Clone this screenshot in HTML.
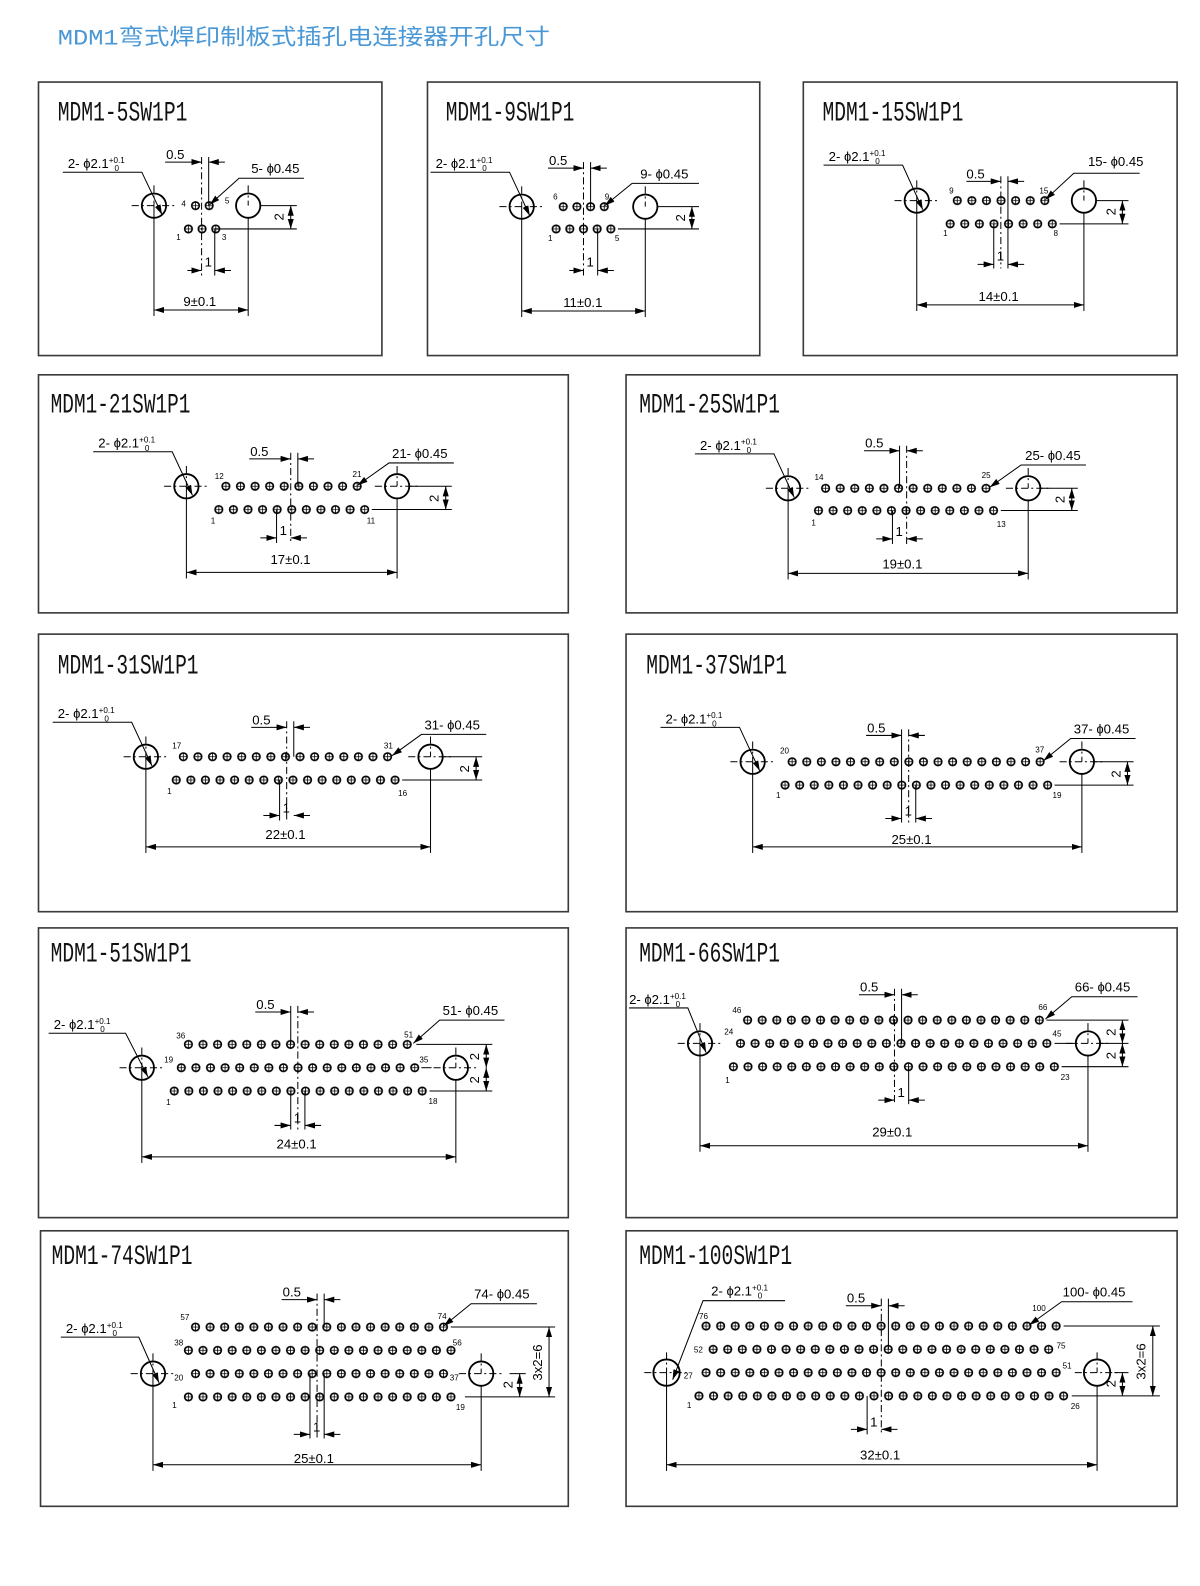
<!DOCTYPE html>
<html><head><meta charset="utf-8"><style>
html,body{margin:0;padding:0;background:#fff;width:1200px;height:1586px;overflow:hidden}
svg{display:block}
.l{stroke:#000;stroke-width:1;fill:none}
.c{stroke:#000;stroke-width:1;fill:none;stroke-dasharray:7,3,2,3}
.b{stroke:#000;stroke-width:1.8;fill:none}
.p{stroke:#3a3a3a;stroke-width:1.6;fill:#fff}
.t{font-family:"Liberation Sans",sans-serif;font-size:13px;fill:#000}
.s{font-family:"Liberation Sans",sans-serif;font-size:8px;fill:#000}
.h{font-family:"Liberation Mono",monospace;font-size:27px;fill:#111}
</style></head><body>
<svg width="1200" height="1586" viewBox="0 0 1200 1586" xmlns="http://www.w3.org/2000/svg">
<defs>
<marker id="a" viewBox="0 0 10 6" refX="10" refY="3" markerWidth="10" markerHeight="6" markerUnits="userSpaceOnUse" orient="auto-start-reverse"><path d="M0,0L10,3L0,6z" fill="#000"/></marker>
<pattern id="pa" patternUnits="userSpaceOnUse" width="13.5" height="12"><circle cx="6.75" cy="6" r="3.7" fill="none" stroke="#000" stroke-width="1.6"/><path d="M6.75,2v8M2.8,6h8" stroke="#000" stroke-width="0.8"/></pattern>
<pattern id="pb" patternUnits="userSpaceOnUse" width="14.4" height="12"><circle cx="7.2" cy="6" r="3.7" fill="none" stroke="#000" stroke-width="1.6"/><path d="M7.2,2v8M3.3,6h8" stroke="#000" stroke-width="0.8"/></pattern>
</defs>
<g transform="scale(1.013)">
<text x="57" y="44" style="font-family:'Liberation Mono','Noto Sans CJK SC',sans-serif;font-size:22px;fill:#4a98d6" textLength="486" lengthAdjust="spacingAndGlyphs">MDM1弯式焊印制板式插孔电连接器开孔尺寸</text>

<rect class="p" x="38" y="81" width="339" height="270"/>
<rect class="p" x="422" y="81" width="328" height="270"/>
<rect class="p" x="793" y="81" width="369" height="270"/>
<rect class="p" x="38" y="370" width="523" height="235"/>
<rect class="p" x="618" y="370" width="544" height="235"/>
<rect class="p" x="38" y="626" width="523" height="274"/>
<rect class="p" x="618" y="626" width="544" height="274"/>
<rect class="p" x="38" y="916" width="523" height="286"/>
<rect class="p" x="618" y="916" width="544" height="286"/>
<rect class="p" x="40" y="1215" width="521" height="272"/>
<rect class="p" x="618" y="1215" width="544" height="272"/>

<text class="h" x="57" y="119" textLength="128" lengthAdjust="spacingAndGlyphs">MDM1-5SW1P1</text>
<text class="h" x="440" y="119" textLength="127" lengthAdjust="spacingAndGlyphs">MDM1-9SW1P1</text>
<text class="h" x="812" y="119" textLength="139" lengthAdjust="spacingAndGlyphs">MDM1-15SW1P1</text>
<text class="h" x="50" y="407" textLength="138" lengthAdjust="spacingAndGlyphs">MDM1-21SW1P1</text>
<text class="h" x="631" y="407" textLength="139" lengthAdjust="spacingAndGlyphs">MDM1-25SW1P1</text>
<text class="h" x="57" y="665" textLength="139" lengthAdjust="spacingAndGlyphs">MDM1-31SW1P1</text>
<text class="h" x="638" y="665" textLength="139" lengthAdjust="spacingAndGlyphs">MDM1-37SW1P1</text>
<text class="h" x="50" y="949" textLength="139" lengthAdjust="spacingAndGlyphs">MDM1-51SW1P1</text>
<text class="h" x="631" y="949" textLength="139" lengthAdjust="spacingAndGlyphs">MDM1-66SW1P1</text>
<text class="h" x="51" y="1248" textLength="139" lengthAdjust="spacingAndGlyphs">MDM1-74SW1P1</text>
<text class="h" x="631" y="1248" textLength="151" lengthAdjust="spacingAndGlyphs">MDM1-100SW1P1</text>

<!-- P1 -->
<g>
<circle class="b" cx="152" cy="203" r="12"/><circle class="b" cx="245" cy="203" r="12"/>
<line class="c" x1="130" y1="203" x2="174" y2="203"/><line class="c" x1="152" y1="183" x2="152" y2="203"/>
<line class="c" x1="245" y1="183" x2="245" y2="203"/>
<line class="l" x1="152" y1="203" x2="152" y2="312"/><line class="l" x1="245" y1="215" x2="245" y2="312"/>
<line class="l" x1="152" y1="306" x2="245" y2="306" marker-start="url(#a)" marker-end="url(#a)"/>
<text class="t" x="181" y="302">9±0.1</text>
<rect transform="translate(186.25,197)" width="27" height="12" fill="url(#pa)"/>
<rect transform="translate(179.25,220)" width="40.5" height="12" fill="url(#pa)"/>
<text class="s" x="179" y="204">4</text><text class="s" x="222" y="201">5</text><text class="s" x="174" y="237">1</text><text class="s" x="219" y="237">3</text>
<line class="c" x1="199" y1="155" x2="199" y2="272"/><line class="l" x1="206" y1="155" x2="206" y2="203"/>
<line class="l" x1="163" y1="160" x2="199" y2="160" marker-end="url(#a)"/><line class="l" x1="222" y1="160" x2="206" y2="160" marker-end="url(#a)"/>
<text class="t" x="164" y="157">0.5</text>
<line class="l" x1="212" y1="226" x2="212" y2="272"/>
<line class="l" x1="185" y1="267" x2="199" y2="267" marker-end="url(#a)"/><line class="l" x1="228" y1="267" x2="212" y2="267" marker-end="url(#a)"/>
<text class="t" x="202" y="263">1</text>
<line class="l" x1="257" y1="203" x2="293" y2="203"/><line class="l" x1="212" y1="226" x2="293" y2="226"/>
<line class="l" x1="287" y1="203" x2="287" y2="226" marker-start="url(#a)" marker-end="url(#a)"/>
<text class="t" transform="translate(280,214) rotate(-90)" text-anchor="middle">2</text>
<text class="t" x="67" y="166">2- ɸ2.1<tspan class="s" dy="-5">+0.1</tspan><tspan class="s" x="113" dy="8">0</tspan></text>
<polyline class="l" points="62,170 140,170 160,212" marker-end="url(#a)"/>
<text class="t" x="248" y="171">5- ɸ0.45</text>
<polyline class="l" points="300,176 236,176 207,202" marker-end="url(#a)"/>
</g>

<!-- P2 -->
<g>
<circle class="b" cx="515" cy="204" r="12"/><circle class="b" cx="637" cy="204" r="12"/>
<line class="c" x1="493" y1="204" x2="537" y2="204"/><line class="c" x1="515" y1="184" x2="515" y2="204"/><line class="c" x1="637" y1="184" x2="637" y2="204"/>
<line class="l" x1="515" y1="204" x2="515" y2="313"/><line class="l" x1="637" y1="216" x2="637" y2="313"/>
<line class="l" x1="515" y1="307" x2="637" y2="307" marker-start="url(#a)" marker-end="url(#a)"/>
<text class="t" x="556" y="303">11±0.1</text>
<rect transform="translate(549.25,198)" width="54" height="12" fill="url(#pa)"/>
<rect transform="translate(542.25,220)" width="67.5" height="12" fill="url(#pa)"/>
<text class="s" x="546" y="197">6</text><text class="s" x="597" y="197">9</text><text class="s" x="541" y="238">1</text><text class="s" x="607" y="238">5</text>
<line class="c" x1="576" y1="160" x2="576" y2="272"/><line class="l" x1="583" y1="160" x2="583" y2="204"/>
<line class="l" x1="541" y1="166" x2="576" y2="166" marker-end="url(#a)"/><line class="l" x1="599" y1="166" x2="583" y2="166" marker-end="url(#a)"/>
<text class="t" x="542" y="163">0.5</text>
<line class="l" x1="590" y1="226" x2="590" y2="272"/>
<line class="l" x1="562" y1="267" x2="576" y2="267" marker-end="url(#a)"/><line class="l" x1="606" y1="267" x2="590" y2="267" marker-end="url(#a)"/>
<text class="t" x="579" y="263">1</text>
<line class="l" x1="649" y1="204" x2="690" y2="204"/><line class="l" x1="610" y1="226" x2="690" y2="226"/>
<line class="l" x1="683" y1="204" x2="683" y2="226" marker-start="url(#a)" marker-end="url(#a)"/>
<text class="t" transform="translate(676,215) rotate(-90)" text-anchor="middle">2</text>
<text class="t" x="430" y="166">2- ɸ2.1<tspan class="s" dy="-5">+0.1</tspan><tspan class="s" x="476" dy="8">0</tspan></text>
<polyline class="l" points="425,170 503,170 523,213" marker-end="url(#a)"/>
<text class="t" x="632" y="176">9- ɸ0.45</text>
<polyline class="l" points="690,181 624,181 597,203" marker-end="url(#a)"/>
</g>

<!-- P3 -->
<g>
<circle class="b" cx="905" cy="198" r="12"/><circle class="b" cx="1070" cy="198" r="12"/>
<line class="c" x1="883" y1="198" x2="927" y2="198"/><line class="c" x1="905" y1="178" x2="905" y2="198"/><line class="c" x1="1070" y1="178" x2="1070" y2="198"/>
<line class="l" x1="905" y1="198" x2="905" y2="307"/><line class="l" x1="1070" y1="210" x2="1070" y2="307"/>
<line class="l" x1="905" y1="301" x2="1070" y2="301" marker-start="url(#a)" marker-end="url(#a)"/>
<text class="t" x="966" y="297">14±0.1</text>
<rect transform="translate(937.8,192)" width="100.8" height="12" fill="url(#pb)"/>
<rect transform="translate(930.8,215)" width="115.2" height="12" fill="url(#pb)"/>
<text class="s" x="937" y="191">9</text><text class="s" x="1026" y="191">15</text><text class="s" x="931" y="233">1</text><text class="s" x="1040" y="233">8</text>
<line class="c" x1="988" y1="174" x2="988" y2="265"/><line class="l" x1="995" y1="174" x2="995" y2="265"/>
<line class="l" x1="954" y1="179" x2="988" y2="179" marker-end="url(#a)"/><line class="l" x1="1011" y1="179" x2="995" y2="179" marker-end="url(#a)"/>
<text class="t" x="954" y="176">0.5</text>
<line class="l" x1="981" y1="221" x2="981" y2="265"/>
<line class="l" x1="965" y1="261" x2="981" y2="261" marker-end="url(#a)"/><line class="l" x1="1011" y1="261" x2="995" y2="261" marker-end="url(#a)"/>
<text class="t" x="984" y="257">1</text>
<line class="l" x1="1082" y1="198" x2="1114" y2="198"/><line class="l" x1="1046" y1="221" x2="1114" y2="221"/>
<line class="l" x1="1108" y1="198" x2="1108" y2="221" marker-start="url(#a)" marker-end="url(#a)"/>
<text class="t" transform="translate(1101,209) rotate(-90)" text-anchor="middle">2</text>
<text class="t" x="818" y="159">2- ɸ2.1<tspan class="s" dy="-5">+0.1</tspan><tspan class="s" x="864" dy="8">0</tspan></text>
<polyline class="l" points="813,163 891,163 911,207" marker-end="url(#a)"/>
<text class="t" x="1074" y="164">15- ɸ0.45</text>
<polyline class="l" points="1125,171 1060,171 1032,197" marker-end="url(#a)"/>
</g>

<!-- P4 -->
<g>
<circle class="b" cx="184" cy="480" r="12"/><circle class="b" cx="392" cy="480" r="12"/>
<line class="c" x1="162" y1="480" x2="206" y2="480"/><line class="c" x1="184" y1="460" x2="184" y2="480"/><line class="c" x1="370" y1="480" x2="414" y2="480"/><line class="c" x1="392" y1="460" x2="392" y2="480"/>
<line class="l" x1="184" y1="480" x2="184" y2="571"/><line class="l" x1="392" y1="492" x2="392" y2="571"/>
<line class="l" x1="184" y1="565" x2="392" y2="565" marker-start="url(#a)" marker-end="url(#a)"/>
<text class="t" x="267" y="557">17±0.1</text>
<rect transform="translate(215.8,474)" width="144" height="12" fill="url(#pb)"/>
<rect transform="translate(208.8,497)" width="158.4" height="12" fill="url(#pb)"/>
<text class="s" x="212" y="473">12</text><text class="s" x="348" y="471">21</text><text class="s" x="208" y="517">1</text><text class="s" x="362" y="517">11</text>
<line class="c" x1="287" y1="447" x2="287" y2="536"/><line class="l" x1="294" y1="447" x2="294" y2="480"/>
<line class="l" x1="246" y1="453" x2="287" y2="453" marker-end="url(#a)"/><line class="l" x1="310" y1="453" x2="294" y2="453" marker-end="url(#a)"/>
<text class="t" x="247" y="450">0.5</text>
<line class="l" x1="273" y1="503" x2="273" y2="536"/>
<line class="l" x1="257" y1="531" x2="273" y2="531" marker-end="url(#a)"/><line class="l" x1="303" y1="531" x2="287" y2="531" marker-end="url(#a)"/>
<text class="t" x="276" y="528">1</text>
<line class="l" x1="404" y1="480" x2="446" y2="480"/><line class="l" x1="367" y1="503" x2="446" y2="503"/>
<line class="l" x1="440" y1="480" x2="440" y2="503" marker-start="url(#a)" marker-end="url(#a)"/>
<text class="t" transform="translate(433,492) rotate(-90)" text-anchor="middle">2</text>
<text class="t" x="97" y="442">2- ɸ2.1<tspan class="s" dy="-5">+0.1</tspan><tspan class="s" x="143" dy="8">0</tspan></text>
<polyline class="l" points="92,446 170,446 190,489" marker-end="url(#a)"/>
<text class="t" x="387" y="452">21- ɸ0.45</text>
<polyline class="l" points="448,457 384,457 353,479" marker-end="url(#a)"/>
</g>

<!-- P5 -->
<g>
<circle class="b" cx="778" cy="482" r="12"/><circle class="b" cx="1015" cy="482" r="12"/>
<line class="c" x1="756" y1="482" x2="800" y2="482"/><line class="c" x1="778" y1="462" x2="778" y2="482"/><line class="c" x1="993" y1="482" x2="1037" y2="482"/><line class="c" x1="1015" y1="462" x2="1015" y2="482"/>
<line class="l" x1="778" y1="482" x2="778" y2="572"/><line class="l" x1="1015" y1="494" x2="1015" y2="572"/>
<line class="l" x1="778" y1="566" x2="1015" y2="566" marker-start="url(#a)" marker-end="url(#a)"/>
<text class="t" x="871" y="561">19±0.1</text>
<rect transform="translate(807.8,476)" width="172.8" height="12" fill="url(#pb)"/>
<rect transform="translate(800.8,498)" width="187.2" height="12" fill="url(#pb)"/>
<text class="s" x="804" y="474">14</text><text class="s" x="969" y="472">25</text><text class="s" x="801" y="519">1</text><text class="s" x="984" y="520">13</text>
<line class="c" x1="895" y1="440" x2="895" y2="537"/><line class="l" x1="888" y1="440" x2="888" y2="482"/>
<line class="l" x1="853" y1="445" x2="888" y2="445" marker-end="url(#a)"/><line class="l" x1="911" y1="445" x2="895" y2="445" marker-end="url(#a)"/>
<text class="t" x="854" y="442">0.5</text>
<line class="l" x1="881" y1="504" x2="881" y2="537"/>
<line class="l" x1="865" y1="532" x2="881" y2="532" marker-end="url(#a)"/><line class="l" x1="911" y1="532" x2="895" y2="532" marker-end="url(#a)"/>
<text class="t" x="884" y="529">1</text>
<line class="l" x1="1027" y1="482" x2="1064" y2="482"/><line class="l" x1="988" y1="504" x2="1064" y2="504"/>
<line class="l" x1="1058" y1="482" x2="1058" y2="504" marker-start="url(#a)" marker-end="url(#a)"/>
<text class="t" transform="translate(1051,493) rotate(-90)" text-anchor="middle">2</text>
<text class="t" x="691" y="444">2- ɸ2.1<tspan class="s" dy="-5">+0.1</tspan><tspan class="s" x="737" dy="8">0</tspan></text>
<polyline class="l" points="686,448 764,448 784,491" marker-end="url(#a)"/>
<text class="t" x="1012" y="454">25- ɸ0.45</text>
<polyline class="l" points="1072,459 1008,459 977,481" marker-end="url(#a)"/>
</g>

<!-- P6 -->
<g>
<circle class="b" cx="144" cy="747" r="12"/><circle class="b" cx="425" cy="747" r="12"/>
<line class="c" x1="122" y1="747" x2="166" y2="747"/><line class="c" x1="144" y1="727" x2="144" y2="747"/><line class="c" x1="403" y1="747" x2="447" y2="747"/><line class="c" x1="425" y1="727" x2="425" y2="747"/>
<line class="l" x1="144" y1="747" x2="144" y2="842"/><line class="l" x1="425" y1="759" x2="425" y2="842"/>
<line class="l" x1="144" y1="836" x2="425" y2="836" marker-start="url(#a)" marker-end="url(#a)"/>
<text class="t" x="262" y="828">22±0.1</text>
<rect transform="translate(173.8,741)" width="216" height="12" fill="url(#pb)"/>
<rect transform="translate(166.8,764)" width="230.4" height="12" fill="url(#pb)"/>
<text class="s" x="170" y="739">17</text><text class="s" x="379" y="739">31</text><text class="s" x="165" y="784">1</text><text class="s" x="393" y="786">16</text>
<line class="c" x1="283" y1="712" x2="283" y2="810"/><line class="l" x1="290" y1="712" x2="290" y2="747"/>
<line class="l" x1="248" y1="718" x2="283" y2="718" marker-end="url(#a)"/><line class="l" x1="306" y1="718" x2="290" y2="718" marker-end="url(#a)"/>
<text class="t" x="249" y="715">0.5</text>
<line class="l" x1="276" y1="770" x2="276" y2="810"/>
<line class="l" x1="260" y1="805" x2="276" y2="805" marker-end="url(#a)"/><line class="l" x1="306" y1="805" x2="290" y2="805" marker-end="url(#a)"/>
<text class="t" x="279" y="802">1</text>
<line class="l" x1="437" y1="747" x2="476" y2="747"/><line class="l" x1="397" y1="770" x2="476" y2="770"/>
<line class="l" x1="470" y1="747" x2="470" y2="770" marker-start="url(#a)" marker-end="url(#a)"/>
<text class="t" transform="translate(463,759) rotate(-90)" text-anchor="middle">2</text>
<text class="t" x="57" y="709">2- ɸ2.1<tspan class="s" dy="-5">+0.1</tspan><tspan class="s" x="103" dy="8">0</tspan></text>
<polyline class="l" points="52,713 130,713 150,756" marker-end="url(#a)"/>
<text class="t" x="419" y="720">31- ɸ0.45</text>
<polyline class="l" points="480,725 416,725 387,746" marker-end="url(#a)"/>
</g>

<!-- P7 -->
<g>
<circle class="b" cx="743" cy="752" r="12"/><circle class="b" cx="1068" cy="752" r="12"/>
<line class="c" x1="721" y1="752" x2="765" y2="752"/><line class="c" x1="743" y1="732" x2="743" y2="752"/><line class="c" x1="1046" y1="752" x2="1090" y2="752"/><line class="c" x1="1068" y1="732" x2="1068" y2="752"/>
<line class="l" x1="743" y1="752" x2="743" y2="842"/><line class="l" x1="1068" y1="764" x2="1068" y2="842"/>
<line class="l" x1="743" y1="836" x2="1068" y2="836" marker-start="url(#a)" marker-end="url(#a)"/>
<text class="t" x="880" y="833">25±0.1</text>
<rect transform="translate(774.8,746)" width="259.2" height="12" fill="url(#pb)"/>
<rect transform="translate(767.8,769)" width="273.6" height="12" fill="url(#pb)"/>
<text class="s" x="770" y="744">20</text><text class="s" x="1022" y="743">37</text><text class="s" x="766" y="788">1</text><text class="s" x="1039" y="788">19</text>
<line class="c" x1="897" y1="720" x2="897" y2="812"/><line class="l" x1="890" y1="720" x2="890" y2="812"/>
<line class="l" x1="855" y1="726" x2="890" y2="726" marker-end="url(#a)"/><line class="l" x1="913" y1="726" x2="897" y2="726" marker-end="url(#a)"/>
<text class="t" x="856" y="723">0.5</text>
<line class="l" x1="904" y1="775" x2="904" y2="812"/>
<line class="l" x1="874" y1="808" x2="890" y2="808" marker-end="url(#a)"/><line class="l" x1="920" y1="808" x2="904" y2="808" marker-end="url(#a)"/>
<text class="t" x="893" y="805">1</text>
<line class="l" x1="1080" y1="752" x2="1119" y2="752"/><line class="l" x1="1041" y1="775" x2="1119" y2="775"/>
<line class="l" x1="1113" y1="752" x2="1113" y2="775" marker-start="url(#a)" marker-end="url(#a)"/>
<text class="t" transform="translate(1106,764) rotate(-90)" text-anchor="middle">2</text>
<text class="t" x="657" y="714">2- ɸ2.1<tspan class="s" dy="-5">+0.1</tspan><tspan class="s" x="703" dy="8">0</tspan></text>
<polyline class="l" points="652,718 730,718 750,761" marker-end="url(#a)"/>
<text class="t" x="1060" y="724">37- ɸ0.45</text>
<polyline class="l" points="1121,729 1057,729 1030,751" marker-end="url(#a)"/>
</g>

<!-- P8 -->
<g>
<circle class="b" cx="140" cy="1054" r="12"/><circle class="b" cx="450" cy="1054" r="12"/>
<line class="c" x1="118" y1="1054" x2="162" y2="1054"/><line class="c" x1="140" y1="1034" x2="140" y2="1054"/><line class="c" x1="428" y1="1054" x2="472" y2="1054"/><line class="c" x1="450" y1="1034" x2="450" y2="1054"/>
<line class="l" x1="140" y1="1054" x2="140" y2="1148"/><line class="l" x1="450" y1="1066" x2="450" y2="1148"/>
<line class="l" x1="140" y1="1142" x2="450" y2="1142" marker-start="url(#a)" marker-end="url(#a)"/>
<text class="t" x="273" y="1134">24±0.1</text>
<rect transform="translate(178.8,1025)" width="230.4" height="12" fill="url(#pb)"/>
<rect transform="translate(171.8,1048)" width="244.8" height="12" fill="url(#pb)"/>
<rect transform="translate(164.8,1071)" width="259.2" height="12" fill="url(#pb)"/>
<text class="s" x="174" y="1025">36</text><text class="s" x="399" y="1024">51</text><text class="s" x="162" y="1049">19</text><text class="s" x="414" y="1049">35</text><text class="s" x="164" y="1091">1</text><text class="s" x="423" y="1090">18</text>
<line class="c" x1="294" y1="993" x2="294" y2="1115"/><line class="l" x1="287" y1="993" x2="287" y2="1031"/>
<line class="l" x1="252" y1="999" x2="287" y2="999" marker-end="url(#a)"/><line class="l" x1="310" y1="999" x2="294" y2="999" marker-end="url(#a)"/>
<text class="t" x="253" y="996">0.5</text>
<line class="l" x1="287" y1="1077" x2="287" y2="1115"/><line class="l" x1="301" y1="1077" x2="301" y2="1115"/>
<line class="l" x1="271" y1="1111" x2="287" y2="1111" marker-end="url(#a)"/><line class="l" x1="317" y1="1111" x2="301" y2="1111" marker-end="url(#a)"/>
<text class="t" x="290" y="1108">1</text>
<line class="l" x1="411" y1="1031" x2="486" y2="1031"/><line class="l" x1="416" y1="1054" x2="426" y2="1054"/><line class="l" x1="424" y1="1077" x2="486" y2="1077"/>
<line class="l" x1="480" y1="1031" x2="480" y2="1054" marker-start="url(#a)" marker-end="url(#a)"/>
<line class="l" x1="480" y1="1054" x2="480" y2="1077" marker-start="url(#a)" marker-end="url(#a)"/>
<text class="t" transform="translate(473,1043) rotate(-90)" text-anchor="middle">2</text>
<text class="t" transform="translate(473,1066) rotate(-90)" text-anchor="middle">2</text>
<text class="t" x="53" y="1016">2- ɸ2.1<tspan class="s" dy="-5">+0.1</tspan><tspan class="s" x="99" dy="8">0</tspan></text>
<polyline class="l" points="48,1020 124,1020 146,1063" marker-end="url(#a)"/>
<text class="t" x="437" y="1002">51- ɸ0.45</text>
<polyline class="l" points="498,1007 434,1007 408,1030" marker-end="url(#a)"/>
</g>

<!-- P9 -->
<g>
<circle class="b" cx="691" cy="1030" r="12"/><circle class="b" cx="1074" cy="1030" r="12"/>
<line class="c" x1="669" y1="1030" x2="713" y2="1030"/><line class="c" x1="691" y1="1010" x2="691" y2="1030"/><line class="c" x1="1052" y1="1030" x2="1096" y2="1030"/><line class="c" x1="1074" y1="1010" x2="1074" y2="1030"/>
<line class="l" x1="691" y1="1030" x2="691" y2="1137"/><line class="l" x1="1074" y1="1042" x2="1074" y2="1137"/>
<line class="l" x1="691" y1="1131" x2="1074" y2="1131" marker-start="url(#a)" marker-end="url(#a)"/>
<text class="t" x="861" y="1122">29±0.1</text>
<rect transform="translate(730.8,1001)" width="302.4" height="12" fill="url(#pb)"/>
<rect transform="translate(723.8,1024)" width="316.8" height="12" fill="url(#pb)"/>
<rect transform="translate(716.8,1047)" width="331.2" height="12" fill="url(#pb)"/>
<text class="s" x="723" y="1000">46</text><text class="s" x="1025" y="997">66</text><text class="s" x="715" y="1021">24</text><text class="s" x="1039" y="1023">45</text><text class="s" x="716" y="1069">1</text><text class="s" x="1047" y="1066">23</text>
<line class="c" x1="883" y1="976" x2="883" y2="1090"/><line class="l" x1="890" y1="976" x2="890" y2="1030"/>
<line class="l" x1="848" y1="982" x2="883" y2="982" marker-end="url(#a)"/><line class="l" x1="906" y1="982" x2="890" y2="982" marker-end="url(#a)"/>
<text class="t" x="849" y="979">0.5</text>
<line class="l" x1="897" y1="1053" x2="897" y2="1090"/>
<line class="l" x1="867" y1="1086" x2="883" y2="1086" marker-end="url(#a)"/><line class="l" x1="913" y1="1086" x2="897" y2="1086" marker-end="url(#a)"/>
<text class="t" x="886" y="1083">1</text>
<line class="l" x1="1033" y1="1007" x2="1114" y2="1007"/><line class="l" x1="1041" y1="1030" x2="1062" y2="1030"/><line class="l" x1="1086" y1="1030" x2="1114" y2="1030"/><line class="l" x1="1048" y1="1053" x2="1114" y2="1053"/>
<line class="l" x1="1108" y1="1007" x2="1108" y2="1030" marker-start="url(#a)" marker-end="url(#a)"/>
<line class="l" x1="1108" y1="1030" x2="1108" y2="1053" marker-start="url(#a)" marker-end="url(#a)"/>
<text class="t" transform="translate(1101,1019) rotate(-90)" text-anchor="middle">2</text>
<text class="t" transform="translate(1101,1042) rotate(-90)" text-anchor="middle">2</text>
<text class="t" x="621" y="991">2- ɸ2.1<tspan class="s" dy="-5">+0.1</tspan><tspan class="s" x="667" dy="8">0</tspan></text>
<polyline class="l" points="621,995 679,995 697,1039" marker-end="url(#a)"/>
<text class="t" x="1061" y="979">66- ɸ0.45</text>
<polyline class="l" points="1123,984 1058,984 1032,1006" marker-end="url(#a)"/>
</g>

<!-- P10 -->
<g>
<circle class="b" cx="151" cy="1356" r="12"/><circle class="b" cx="475" cy="1356" r="12"/>
<line class="c" x1="129" y1="1356" x2="173" y2="1356"/><line class="c" x1="151" y1="1336" x2="151" y2="1356"/><line class="c" x1="453" y1="1356" x2="497" y2="1356"/><line class="c" x1="475" y1="1336" x2="475" y2="1356"/>
<line class="l" x1="151" y1="1356" x2="151" y2="1452"/><line class="l" x1="475" y1="1368" x2="475" y2="1452"/>
<line class="l" x1="151" y1="1446" x2="475" y2="1446" marker-start="url(#a)" marker-end="url(#a)"/>
<text class="t" x="290" y="1444">25±0.1</text>
<rect transform="translate(185.8,1304)" width="259.2" height="12" fill="url(#pb)"/>
<rect transform="translate(178.8,1327)" width="273.6" height="12" fill="url(#pb)"/>
<rect transform="translate(185.8,1350)" width="259.2" height="12" fill="url(#pb)"/>
<rect transform="translate(178.8,1373)" width="273.6" height="12" fill="url(#pb)"/>
<text class="s" x="178" y="1303">57</text><text class="s" x="432" y="1302">74</text><text class="s" x="172" y="1328">38</text><text class="s" x="447" y="1328">56</text><text class="s" x="172" y="1363">20</text><text class="s" x="444" y="1363">37</text><text class="s" x="170" y="1390">1</text><text class="s" x="450" y="1392">19</text>
<line class="c" x1="313" y1="1277" x2="313" y2="1420"/><line class="l" x1="320" y1="1277" x2="320" y2="1310"/>
<line class="l" x1="278" y1="1283" x2="313" y2="1283" marker-end="url(#a)"/><line class="l" x1="336" y1="1283" x2="320" y2="1283" marker-end="url(#a)"/>
<text class="t" x="279" y="1280">0.5</text>
<line class="l" x1="306" y1="1356" x2="306" y2="1420"/><line class="l" x1="320" y1="1356" x2="320" y2="1420"/>
<line class="l" x1="290" y1="1416" x2="306" y2="1416" marker-end="url(#a)"/><line class="l" x1="336" y1="1416" x2="320" y2="1416" marker-end="url(#a)"/>
<text class="t" x="309" y="1413">1</text>
<line class="l" x1="445" y1="1310" x2="548" y2="1310"/><line class="l" x1="503" y1="1356" x2="519" y2="1356"/><line class="l" x1="459" y1="1379" x2="548" y2="1379"/>
<line class="l" x1="513" y1="1356" x2="513" y2="1379" marker-start="url(#a)" marker-end="url(#a)"/>
<line class="l" x1="542" y1="1310" x2="542" y2="1379" marker-start="url(#a)" marker-end="url(#a)"/>
<text class="t" transform="translate(506,1367) rotate(-90)" text-anchor="middle">2</text>
<text class="t" transform="translate(535,1345) rotate(-90)" text-anchor="middle">3x2=6</text>
<text class="t" x="65" y="1316">2- ɸ2.1<tspan class="s" dy="-5">+0.1</tspan><tspan class="s" x="111" dy="8">0</tspan></text>
<polyline class="l" points="60,1320 137,1320 157,1365" marker-end="url(#a)"/>
<text class="t" x="468" y="1282">74- ɸ0.45</text>
<polyline class="l" points="530,1287 465,1287 438,1309" marker-end="url(#a)"/>
</g>

<!-- P11 -->
<g>
<circle class="b" cx="658" cy="1355" r="13"/><circle class="b" cx="1083" cy="1355" r="13"/>
<line class="c" x1="636" y1="1355" x2="680" y2="1355"/><line class="c" x1="658" y1="1335" x2="658" y2="1355"/><line class="c" x1="1061" y1="1355" x2="1105" y2="1355"/><line class="c" x1="1083" y1="1335" x2="1083" y2="1355"/>
<line class="l" x1="658" y1="1355" x2="658" y2="1452"/><line class="l" x1="1083" y1="1368" x2="1083" y2="1452"/>
<line class="l" x1="658" y1="1446" x2="1083" y2="1446" marker-start="url(#a)" marker-end="url(#a)"/>
<text class="t" x="849" y="1441">32±0.1</text>
<rect transform="translate(689.8,1303)" width="360" height="12" fill="url(#pb)"/>
<rect transform="translate(696.8,1326)" width="345.6" height="12" fill="url(#pb)"/>
<rect transform="translate(689.8,1349)" width="360" height="12" fill="url(#pb)"/>
<rect transform="translate(682.8,1372)" width="374.4" height="12" fill="url(#pb)"/>
<text class="s" x="690" y="1302">76</text><text class="s" x="1019" y="1294">100</text><text class="s" x="685" y="1335">52</text><text class="s" x="1043" y="1331">75</text><text class="s" x="675" y="1361">27</text><text class="s" x="1049" y="1351">51</text><text class="s" x="678" y="1390">1</text><text class="s" x="1057" y="1391">26</text>
<line class="c" x1="870" y1="1282" x2="870" y2="1416"/><line class="l" x1="877" y1="1282" x2="877" y2="1332"/>
<line class="l" x1="835" y1="1289" x2="870" y2="1289" marker-end="url(#a)"/><line class="l" x1="893" y1="1289" x2="877" y2="1289" marker-end="url(#a)"/>
<text class="t" x="836" y="1286">0.5</text>
<line class="l" x1="856" y1="1378" x2="856" y2="1416"/>
<line class="l" x1="840" y1="1411" x2="856" y2="1411" marker-end="url(#a)"/><line class="l" x1="886" y1="1411" x2="870" y2="1411" marker-end="url(#a)"/>
<text class="t" x="859" y="1408">1</text>
<line class="l" x1="1050" y1="1309" x2="1145" y2="1309"/><line class="l" x1="1100" y1="1355" x2="1114" y2="1355"/><line class="l" x1="1058" y1="1378" x2="1145" y2="1378"/>
<line class="l" x1="1108" y1="1355" x2="1108" y2="1378" marker-start="url(#a)" marker-end="url(#a)"/>
<line class="l" x1="1138" y1="1309" x2="1138" y2="1378" marker-start="url(#a)" marker-end="url(#a)"/>
<text class="t" transform="translate(1101,1366) rotate(-90)" text-anchor="middle">2</text>
<text class="t" transform="translate(1131,1344) rotate(-90)" text-anchor="middle">3x2=6</text>
<text class="t" x="702" y="1279">2- ɸ2.1<tspan class="s" dy="-5">+0.1</tspan><tspan class="s" x="748" dy="8">0</tspan></text>
<polyline class="l" points="775,1284 694,1284 664,1362" marker-end="url(#a)"/>
<text class="t" x="1049" y="1280">100- ɸ0.45</text>
<polyline class="l" points="1118,1285 1048,1285 1016,1308" marker-end="url(#a)"/>
</g>
</g>
</svg>
</body></html>
